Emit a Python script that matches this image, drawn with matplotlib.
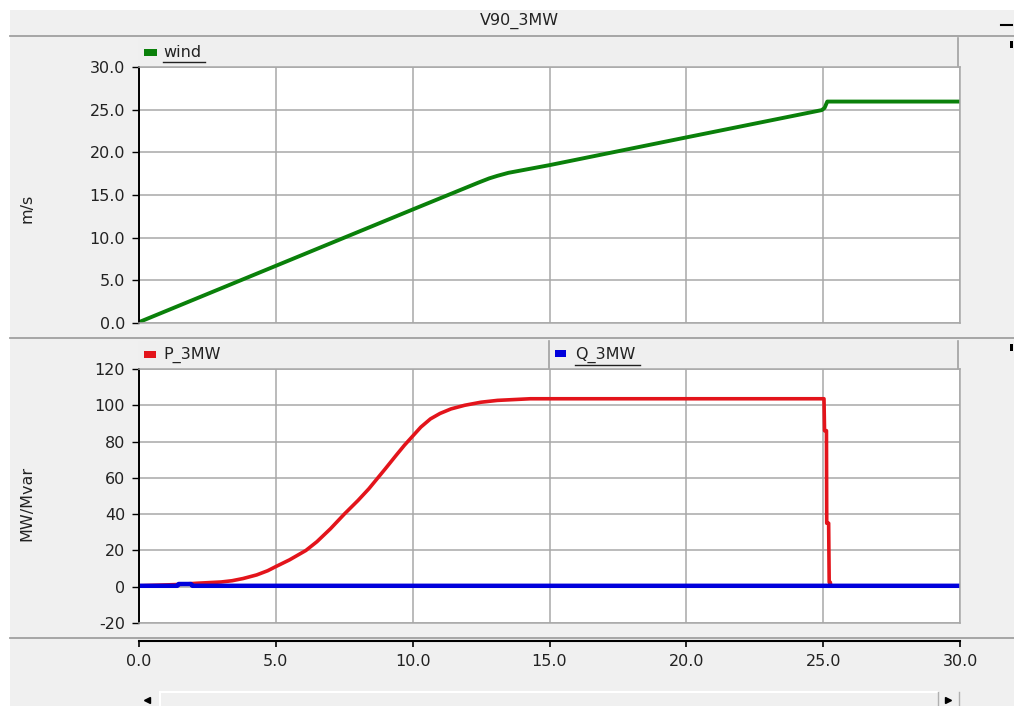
import matplotlib
matplotlib.use('Agg')
import matplotlib.pyplot as plt
from matplotlib.patches import Rectangle

# ---------------- data ----------------
t_wind = [0, 5, 10, 12.4, 12.8, 13.1, 13.5, 15, 20, 24.95, 25.05, 25.15, 30]
wind = [0.1, 6.7, 13.3, 16.45, 16.95, 17.25, 17.6, 18.5, 21.75, 24.95, 25.2, 25.95, 25.95]

t_p = [0, 1.4, 2.1, 3.0, 3.4, 3.8, 4.3, 4.7, 5.0, 5.5, 6.1, 6.5, 7.0, 7.5, 8.0,
       8.4, 8.7, 9.0, 9.4, 9.7, 10.0, 10.3, 10.65, 11.0, 11.4, 11.9, 12.5, 13.1,
       14.3, 25.03, 25.05, 25.12, 25.13, 25.2, 25.22, 25.26, 25.28, 30]
p_3mw = [0.5, 1.2, 1.9, 2.6, 3.3, 4.5, 6.5, 8.8, 11.1, 14.8, 20, 24.8, 32, 40, 47.5,
         54, 59.5, 65, 72.5, 78, 83, 88, 92.5, 95.5, 98, 100, 101.7, 102.7,
         103.6, 103.6, 86, 86, 35, 35, 2.5, 2.5, 0.5, 0.5]

t_q = [0, 1.4, 1.45, 1.9, 1.95, 30]
q_3mw = [0.5, 0.5, 1.5, 1.5, 0.5, 0.5]

x_ticks = [0, 5, 10, 15, 20, 25, 30]
x_ticklabels = ['0.0', '5.0', '10.0', '15.0', '20.0', '25.0', '30.0']
wind_ticks = [0, 5, 10, 15, 20, 25, 30]
wind_ticklabels = ['0.0', '5.0', '10.0', '15.0', '20.0', '25.0', '30.0']
pq_ticks = [-20, 0, 20, 40, 60, 80, 100, 120]

title = 'V90_3MW'
wind_label = 'wind'
p_label = 'P_3MW'
q_label = 'Q_3MW'
top_ylabel = 'm/s'
bot_ylabel = 'MW/Mvar'

# ---------------- style ----------------
plt.rcParams['font.family'] = ['DejaVu Sans']
FS = 11.5
TXT = '#222222'
GRID = '#a8a8a8'
GREEN = '#0a800a'
RED = '#e3141b'
BLUE = '#0000dc'

W, H = 1014, 706
fig = plt.figure(figsize=(W / 100, H / 100), dpi=100, facecolor='white')


def fx(px):
    return px / W


def fy(py):
    return 1 - py / H


# background / window decorations in pixel coordinates
bg = fig.add_axes([0, 0, 1, 1], zorder=0)
bg.set_xlim(0, W)
bg.set_ylim(H, 0)
bg.axis('off')
bg.add_patch(Rectangle((10, 10), W - 10, H - 10, facecolor='#f0f0f0', edgecolor='none'))
for y in [35.5, 337.5, 637.5]:
    bg.plot([10, W], [y, y], color='#a0a0a0', lw=1.3)
bg.text(519, 21, title, ha='center', va='center', fontsize=FS, color=TXT)
bg.plot([1001, 1012], [25, 25], color='black', lw=1.5)
bg.add_patch(Rectangle((1010, 41), 3, 7, facecolor='black', edgecolor='none'))
bg.add_patch(Rectangle((1010, 344), 3, 7, facecolor='black', edgecolor='none'))

# legend bars
bg.add_patch(Rectangle((138, 38), 820, 29, facecolor='#efefef', edgecolor='none'))
bg.plot([958, 958], [38, 67], color='#a0a0a0', lw=1.2)
bg.add_patch(Rectangle((138, 341), 820, 28, facecolor='#efefef', edgecolor='none'))
bg.plot([958, 958], [341, 369], color='#a0a0a0', lw=1.2)
bg.plot([549, 549], [341, 369], color='#a0a0a0', lw=1.2)

bg.add_patch(Rectangle((144, 49), 13, 7, facecolor=GREEN, edgecolor='none'))
bg.text(163, 52.5, wind_label, va='center', ha='left', fontsize=FS, color=TXT)
bg.plot([163, 205], [62, 62], color=TXT, lw=1)
bg.add_patch(Rectangle((144, 351), 12, 7, facecolor=RED, edgecolor='none'))
bg.text(163, 355, p_label, va='center', ha='left', fontsize=FS, color=TXT)
bg.add_patch(Rectangle((555, 350), 11, 7, facecolor=BLUE, edgecolor='none'))
bg.text(575, 355, q_label, va='center', ha='left', fontsize=FS, color=TXT)
bg.plot([575, 640], [365, 365], color=TXT, lw=1)

# scrollbar
bg.plot([160, 938], [691.5, 691.5], color='white', lw=1.5)
bg.plot([160, 160], [692, 706], color='white', lw=1.5)
bg.plot([938, 938], [692, 706], color='#b0b0b0', lw=1)
bg.plot([959, 959], [692, 706], color='#b0b0b0', lw=1)
bg.plot([147], [700], marker='<', color='black', ms=4.5)
bg.plot([948], [700], marker='>', color='black', ms=4.5)

# y labels
fig.text(fx(27), fy(208), top_ylabel, rotation=90, ha='center', va='center',
         fontsize=FS, color=TXT)
fig.text(fx(27), fy(503), bot_ylabel, rotation=90, ha='center', va='center',
         fontsize=FS, color=TXT)

L, R = 139, 960
ax1 = fig.add_axes([fx(L), fy(323), fx(R) - fx(L), fy(67) - fy(323)], zorder=2)
ax2 = fig.add_axes([fx(L), fy(623), fx(R) - fx(L), fy(369) - fy(623)], zorder=2)


def style(ax, yticks, ylabels, ylim):
    ax.set_facecolor('white')
    ax.set_xlim(0, 30)
    ax.set_ylim(*ylim)
    ax.set_xticks(x_ticks)
    ax.set_yticks(yticks)
    ax.set_yticklabels(ylabels)
    ax.grid(True, color=GRID, lw=1.1)
    ax.set_axisbelow(True)
    for s in ['top', 'right', 'bottom']:
        ax.spines[s].set_color(GRID)
        ax.spines[s].set_linewidth(1.1)
    ax.spines['left'].set_color('black')
    ax.spines['left'].set_linewidth(1.4)
    ax.tick_params(axis='x', length=0, labelbottom=False)
    ax.tick_params(axis='y', direction='out', length=5, width=1, color='black',
                   labelsize=FS, labelcolor=TXT, pad=5)


style(ax1, wind_ticks, wind_ticklabels, (0, 30))
style(ax2, pq_ticks, [str(v) for v in pq_ticks], (-20, 120))

ax1.plot(t_wind, wind, color=GREEN, lw=2.8, solid_joinstyle='round')
ax2.plot(t_p, p_3mw, color=RED, lw=2.6, solid_joinstyle='round')
ax2.plot(t_q, q_3mw, color=BLUE, lw=3.2)

# shared x-axis below separator
ax3 = fig.add_axes([fx(L), fy(641), fx(R) - fx(L), 0.0005], zorder=2)
ax3.set_facecolor('none')
ax3.set_xlim(0, 30)
ax3.set_xticks(x_ticks)
ax3.set_xticklabels(x_ticklabels)
ax3.set_yticks([])
for s in ['top', 'right', 'left']:
    ax3.spines[s].set_visible(False)
ax3.spines['bottom'].set_color('black')
ax3.spines['bottom'].set_linewidth(1.5)
ax3.tick_params(axis='x', direction='out', length=4, width=1.2, color='black',
                labelsize=FS, labelcolor=TXT, pad=5)

fig.savefig('out.png', dpi=100, facecolor=fig.get_facecolor())
